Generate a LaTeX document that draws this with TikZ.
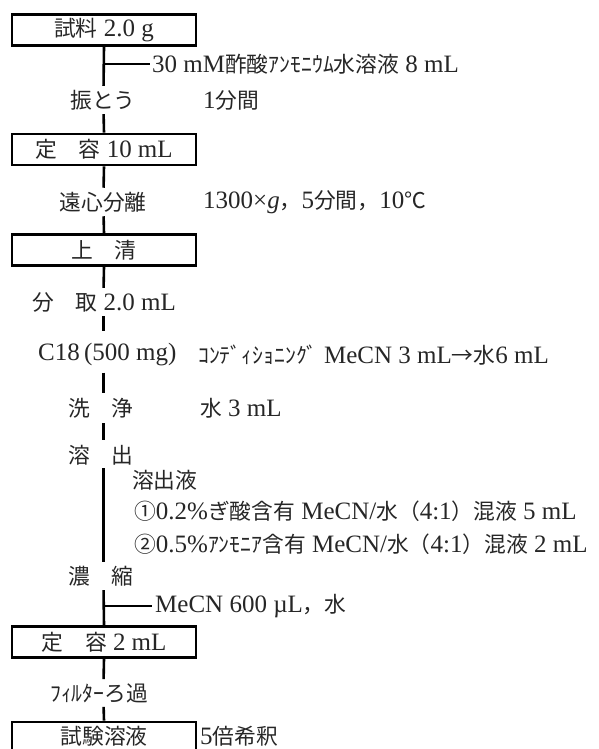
\documentclass[tikz,border=0pt]{standalone}
\usepackage{fontspec}
\setmainfont{Liberation Serif}
\newfontfamily\jpfont[Scale=0.87]{Noto Sans CJK JP}
\newcommand\J[1]{{\jpfont #1}}
\begin{document}
\begin{tikzpicture}[x=1pt,y=-1pt,
  every node/.style={font=\fontsize{25}{28}\selectfont, inner sep=0pt, text=black!85},
  box/.style={draw=black, line width=2.6pt, minimum width=184pt, minimum height=31pt},
  ln/.style={draw=black, line width=2.6pt},
  tx/.style={anchor=west}]
\useasboundingbox (0,0) rectangle (599,749);
\coordinate (sp) at (103.5,0);
% boxes
\node[box] (b1) at (104,30) {\J{試料} 2.0 g};
\node[box] (b2) at (104,149.5) {\J{定　容} 10 mL};
\node[box] (b3) at (104,250) {\J{上　清}};
\node[box] (b4) at (104,642) {\J{定　容} 2 mL};
\node[box,minimum height=28pt] (b5) at (104,736) {\J{試験溶液}};
% step labels on the spine
\node (shake) at (103,100) {\J{振とう}};
\node (cen) at (103,202) {\J{遠心分離}};
\node[tx] (split) at (32,302) {\J{分　取} 2.0 mL};
\node[tx] (c18) at (38,355) {C18\,(500 mg)};
\node[tx] (wash) at (68,408) {\J{洗　浄}};
\node[tx] (elute) at (68,455) {\J{溶　出}};
\node[tx] (conc) at (68,576) {\J{濃　縮}};
\node[tx] (filt) at (50,693) {\J{ﾌｨﾙﾀｰろ過}};
% side notes
\node[tx] (add1) at (152,64) {30 mM\J{酢酸ｱﾝﾓﾆｳﾑ水溶液} 8 mL};
\node[tx] (t1) at (203,100) {1\J{分間}};
\node[tx] (t2) at (203,202) {1300×\textit{g}\J{，}5\J{分間，}10\J{℃}};
\node[tx] (cond) at (198,355) {\J{ｺﾝﾃﾞｨｼｮﾆﾝｸﾞ} MeCN 3 mL\J{→水}6 mL};
\node[tx] (water) at (200,408) {\J{水} 3 mL};
\node[tx] (eluent) at (132,480) {\J{溶出液}};
\node[tx] (el1) at (134,511) {\J{①}0.2\%\J{ぎ酸含有} MeCN/\J{水（}4:1\J{）混液} 5 mL};
\node[tx] (el2) at (134,544) {\J{②}0.5\%\J{ｱﾝﾓﾆｱ含有} MeCN/\J{水（}4:1\J{）混液} 2 mL};
\node[tx] (add2) at (155,606) {MeCN 600 µL\J{，水}};
\node[tx] (dil) at (200,736) {5\J{倍希釈}};
% spine
\draw[ln,shorten >=4pt] (b1.south) -- (sp |- shake.north);
\draw[ln] (sp |- add1.west) -- ([xshift=-2pt]add1.west);
\draw[ln,shorten <=4pt] (sp |- shake.south) -- (b2.north);
\draw[ln,shorten >=4pt] (b2.south) -- (sp |- cen.north);
\draw[ln,shorten <=4pt] (sp |- cen.south) -- (b3.north);
\draw[ln,shorten >=4pt] (b3.south) -- (sp |- split.north);
\draw[ln,shorten <=4pt,shorten >=12pt] (sp |- split.south) -- (sp |- c18.north);
\draw[ln,shorten <=6pt,shorten >=5pt] (sp |- c18.south) -- (sp |- wash.north);
\draw[ln,shorten <=5pt,shorten >=5pt] (sp |- wash.south) -- (sp |- elute.north);
\draw[ln,shorten <=3pt,shorten >=4pt] (sp |- elute.south) -- (sp |- conc.north);
\draw[ln,shorten <=4pt] (sp |- conc.south) -- (b4.north);
\draw[ln] (sp |- add2.west) -- ([xshift=-3pt]add2.west);
\draw[ln,shorten >=4pt] (b4.south) -- (sp |- filt.north);
\draw[ln,shorten <=4pt] (sp |- filt.south) -- (b5.north);
\end{tikzpicture}
\end{document}
